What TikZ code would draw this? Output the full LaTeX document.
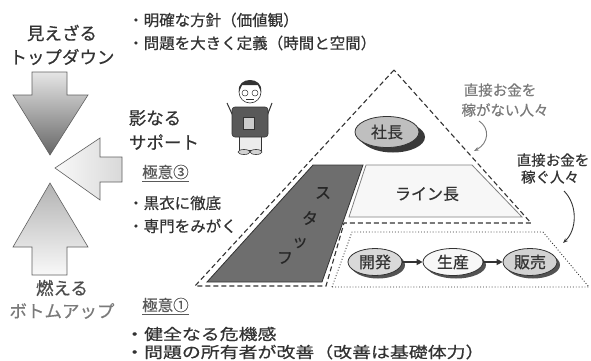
\documentclass[tikz,border=0pt]{standalone}
\usepackage{fontspec}
\setmainfont{Noto Sans CJK JP}[FakeBold=0.5]
\usepackage{graphicx}
\usepackage{tikz}
\usetikzlibrary{arrows.meta}
\usetikzlibrary{shapes.geometric}
\usetikzlibrary{shadows}
\definecolor{ink}{HTML}{333333}
\definecolor{soft}{HTML}{7A7A7A}
\definecolor{staffgray}{HTML}{6E6E6E}
\tikzset{
  big/.style={font=\fontsize{17.5}{20}\selectfont, text=ink, inner sep=0pt},
  body/.style={font=\fontsize{15.5}{18}\selectfont, text=ink, inner sep=0pt, anchor=west},
  small/.style={font=\fontsize{14.5}{17}\selectfont, inner sep=0pt},
  blockarrow/.style={draw=gray!75!black, line width=0.6pt},
  pyramid/.style={draw=ink, dash pattern=on 5pt off 3pt, line width=1.1pt},
  earnzone/.style={draw=ink, dotted, line width=0.9pt},
  oval/.style={ellipse, draw=ink, line width=0.8pt, inner sep=1pt, minimum height=27pt,
    font=\fontsize{16}{18}\selectfont, text=ink,
    drop shadow={shadow xshift=3pt, shadow yshift=-3pt, fill=gray!65!black, opacity=1}},
  flow/.style={-{Triangle[length=6pt,width=6pt]}, line width=1.8pt, ink},
  note/.style={-{Stealth[length=5pt]}, line width=0.9pt},
}

\begin{document}
\begin{tikzpicture}[x=1pt,y=-1pt]
\useasboundingbox (0,0) rectangle (591,361);

\shadedraw[blockarrow, top color=gray!20, bottom color=gray!80!black] (32,72) -- (67,72) -- (67,95) -- (88,95) -- (50,155) -- (13,95) -- (32,95) -- cycle;
\shadedraw[blockarrow, top color=gray!60, bottom color=gray!5] (50,183) -- (88,247) -- (67,247) -- (67,275) -- (32,275) -- (32,247) -- (13,247) -- cycle;
\shadedraw[blockarrow, left color=gray!5, right color=gray!30] (55,168) -- (100,138) -- (100,157) -- (122,157) -- (122,182) -- (100,182) -- (100,200) -- cycle;

\node[big] (mie) at (62,33) {見えざる};
\node[big] (topdown) at (62,57) {トップダウン};
\node[big, text=gray!60!black] (moeru) at (62,288) {燃える};
\node[big, text=soft] (bottomup) at (62,311) {ボトムアップ};
\node[big] (kage) at (155,118) {影なる};
\node[big] (support) at (164,142) {サポート};

\node[body] (houshin) at (128,20) {・明確な方針（価値観）};
\node[body] (teigi) at (128,43) {・問題を大きく定義（時間と空間）};
\node[body, text=gray!70!black] (goku3) at (142,172) {極意③};
\draw[gray!70!black, line width=0.6pt] ([yshift=-2pt]goku3.south west) -- ([yshift=-2pt]goku3.south east);
\node[body] (kuroko) at (128,203) {・黒衣に徹底};
\node[body] (senmon) at (128,226) {・専門をみがく};
\node[body, text=gray!70!black] (goku1) at (142,305) {極意①};
\draw[gray!70!black, line width=0.6pt] ([yshift=-2pt]goku1.south west) -- ([yshift=-2pt]goku1.south east);
\node[body] (kiki) at (125,334) {\scalebox{1.22}[1]{・健全なる危機感}};
\node[body] (kaizen) at (125,352) {\scalebox{1.22}[1]{・問題の所有者が改善（改善は基礎体力）}};

\draw[fill=gray!15, draw=ink, line width=0.6pt] (239,134) rectangle (261,150);
\draw[fill=gray!35, draw=ink, line width=0.6pt] (244,152) ellipse [x radius=6pt, y radius=2.5pt];
\draw[fill=gray!35, draw=ink, line width=0.6pt] (256,152) ellipse [x radius=6pt, y radius=2.5pt];
\draw[ink, line width=1pt] (233,116) -- (227,103);
\draw[ink, line width=1pt] (267,116) -- (272,103);
\draw[fill=gray!70!black, draw=ink, line width=0.6pt, rounded corners=3pt] (232,107) rectangle (268,137);
\draw[fill=gray!40, draw=ink, line width=0.5pt] (243,117) rectangle (254,129);
\draw[fill=white, draw=ink, line width=0.6pt] (250,92) circle (11pt);
\fill[ink] (239,92) .. controls (236,76) and (264,76) .. (261,92) -- (258,85) -- (242,85) -- cycle;
\draw[ink, line width=0.5pt] (245,93) circle (3pt);
\draw[ink, line width=0.5pt] (255,93) circle (3pt);
\draw[ink, line width=0.5pt] (246,99) -- (254,99);

\draw[pyramid] (394,70) -- (195,286) -- (326,286) -- (344,223) -- (531,223) -- cycle;
\draw[earnzone] (332,287) -- (352,232) -- (543,232) -- (589,287) -- cycle;
\draw[fill=staffgray, draw=ink, line width=0.8pt] (207,282) -- (313,165) -- (363,165) -- (322,282) -- cycle;
\draw[fill=gray!6, draw=gray, line width=0.8pt] (366,165) -- (472,165) -- (522,217) -- (349,217) -- cycle;

\node[font=\fontsize{16}{18}\selectfont, text=black!85] (su) at (323,193) {ス};
\node[font=\fontsize{16}{18}\selectfont, text=black!85] (ta) at (310,218) {タ};
\node[font=\fontsize{16}{18}\selectfont, text=black!85] (tsu) at (300,243) {ッ};
\node[font=\fontsize{16}{18}\selectfont, text=black!85] (fu) at (285,258) {フ};
\node[font=\fontsize{16}{18}\selectfont, text=ink] (line) at (427,194) {ライン長};

\node[oval, fill=gray!50, minimum width=64pt, minimum height=31pt,
  drop shadow={shadow xshift=6pt, shadow yshift=-5pt, fill=gray!45!black, opacity=1}] (shacho) at (387,132) {社長};

\node[oval, fill=gray!30, minimum width=54pt] (kaihatsu) at (375,262) {開発};
\node[oval, fill=gray!6, minimum width=60pt] (seisan) at (453,262) {生産};
\node[oval, fill=gray!35, minimum width=54pt] (hanbai) at (530,262) {販売};
\draw[flow] (kaihatsu) -- (seisan);
\draw[flow] (seisan) -- (hanbai);

\node[small, text=soft] (nai1) at (500,90) {直接お金を};
\node[small, text=soft] (nai2) at (505,110) {稼がない人々};
\node[small, text=ink] (kasegu1) at (553,160) {直接お金を};
\node[small, text=ink] (kasegu2) at (550,177) {稼ぐ人々};
\coordinate (nai-from) at (479,121);
\coordinate (nai-to) at (474,151);
\draw[note, soft] (nai-from) .. controls (490,128) and (489,143) .. (nai-to);
\coordinate (kasegu-from) at (564,191);
\coordinate (kasegu-to) at (563,243);
\draw[note, ink] (kasegu-from) .. controls (578,205) and (577,230) .. (kasegu-to);
\end{tikzpicture}
\end{document}
